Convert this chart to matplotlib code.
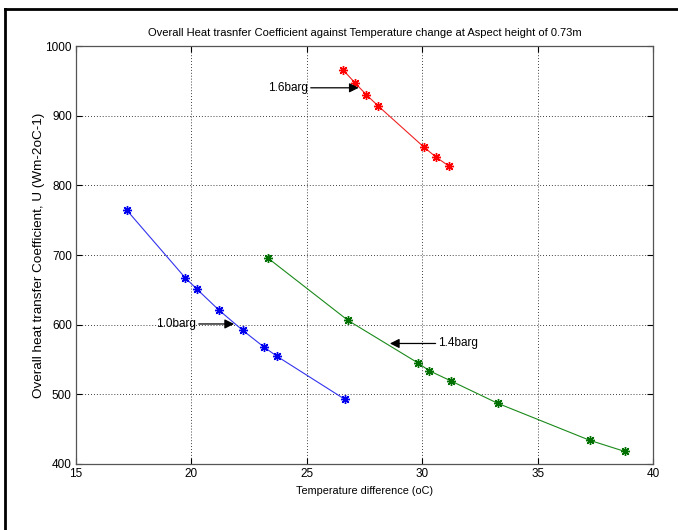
import matplotlib
matplotlib.use("Agg")
import matplotlib.pyplot as plt
from matplotlib.lines import Line2D

# Data
dt_10 = [17.21, 19.74, 20.24, 21.19, 22.22, 23.14, 23.69, 26.64]
u_10 = [764, 667, 651, 621, 592, 568, 555, 493]

dt_14 = [23.30, 26.79, 29.82, 30.30, 31.26, 33.28, 37.26, 38.78]
u_14 = [696, 606, 545, 534, 519, 487, 434, 418]

dt_16 = [26.59, 27.09, 27.58, 28.09, 30.07, 30.58, 31.14]
u_16 = [965, 947, 930, 914, 855, 841, 828]

x_ticks = [15, 20, 25, 30, 35, 40]
y_ticks = [400, 500, 600, 700, 800, 900, 1000]

labels = ["1.0barg", "1.4barg", "1.6barg"]

plt.rcParams['font.family'] = ['Liberation Sans', 'DejaVu Sans']

fig = plt.figure(figsize=(6.78, 5.30), dpi=100)
ax = fig.add_axes([76/678, 1-464/530, (653-76)/678, (464-46)/530])

mk = (8, 2, 0)
ax.plot(dt_10, u_10, color='#3333ee', lw=0.8, marker=mk, ms=6.5, mew=1.0, mec='#0000ee')
ax.plot(dt_14, u_14, color='#1a8a1a', lw=0.8, marker=mk, ms=6.5, mew=1.0, mec='#007000')
ax.plot(dt_16, u_16, color='#ee2222', lw=0.8, marker=mk, ms=6.5, mew=1.0, mec='#ff0000')

ax.set_xlim(15, 40)
ax.set_ylim(400, 1000)
ax.set_xticks(x_ticks)
ax.set_yticks(y_ticks)
ax.tick_params(direction='in', top=True, right=True, labelsize=8.5, length=4,
               color='black', pad=3)
ax.grid(True, linestyle=(0, (1, 2.5)), color='black', lw=0.6)
for s in ax.spines.values():
    s.set_linewidth(0.9)
    s.set_color('#555555')

ax.set_title("Overall Heat trasnfer Coefficient against Temperature change at Aspect height of 0.73m",
             fontsize=8, pad=7)
ax.set_xlabel("Temperature difference (oC)", fontsize=7.8, labelpad=4)
ax.set_ylabel("Overall heat transfer Coefficient, U (Wm-2oC-1)", fontsize=9.7)
ax.yaxis.set_label_coords(-0.053, 0.5)

arrow = dict(arrowstyle='-|>', color='black', lw=0.9, mutation_scale=14, shrinkA=0, shrinkB=0)
ax.annotate(labels[0], xy=(21.85, 601), xytext=(20.2, 601), fontsize=8.5,
            ha='right', va='center', arrowprops=arrow)
ax.annotate(labels[1], xy=(28.6, 573), xytext=(30.7, 573), fontsize=8.5,
            ha='left', va='center', arrowprops=arrow)
ax.annotate(labels[2], xy=(27.25, 940), xytext=(25.05, 940), fontsize=8.5,
            ha='right', va='center', arrowprops=arrow)

# image frame lines (left and top)
fig.add_artist(Line2D([5/678, 5/678], [0, 1-9/530], transform=fig.transFigure, color='black', lw=2))
fig.add_artist(Line2D([5/678, 1], [1-9/530, 1-9/530], transform=fig.transFigure, color='black', lw=2))

fig.savefig("out.png", dpi=100)
